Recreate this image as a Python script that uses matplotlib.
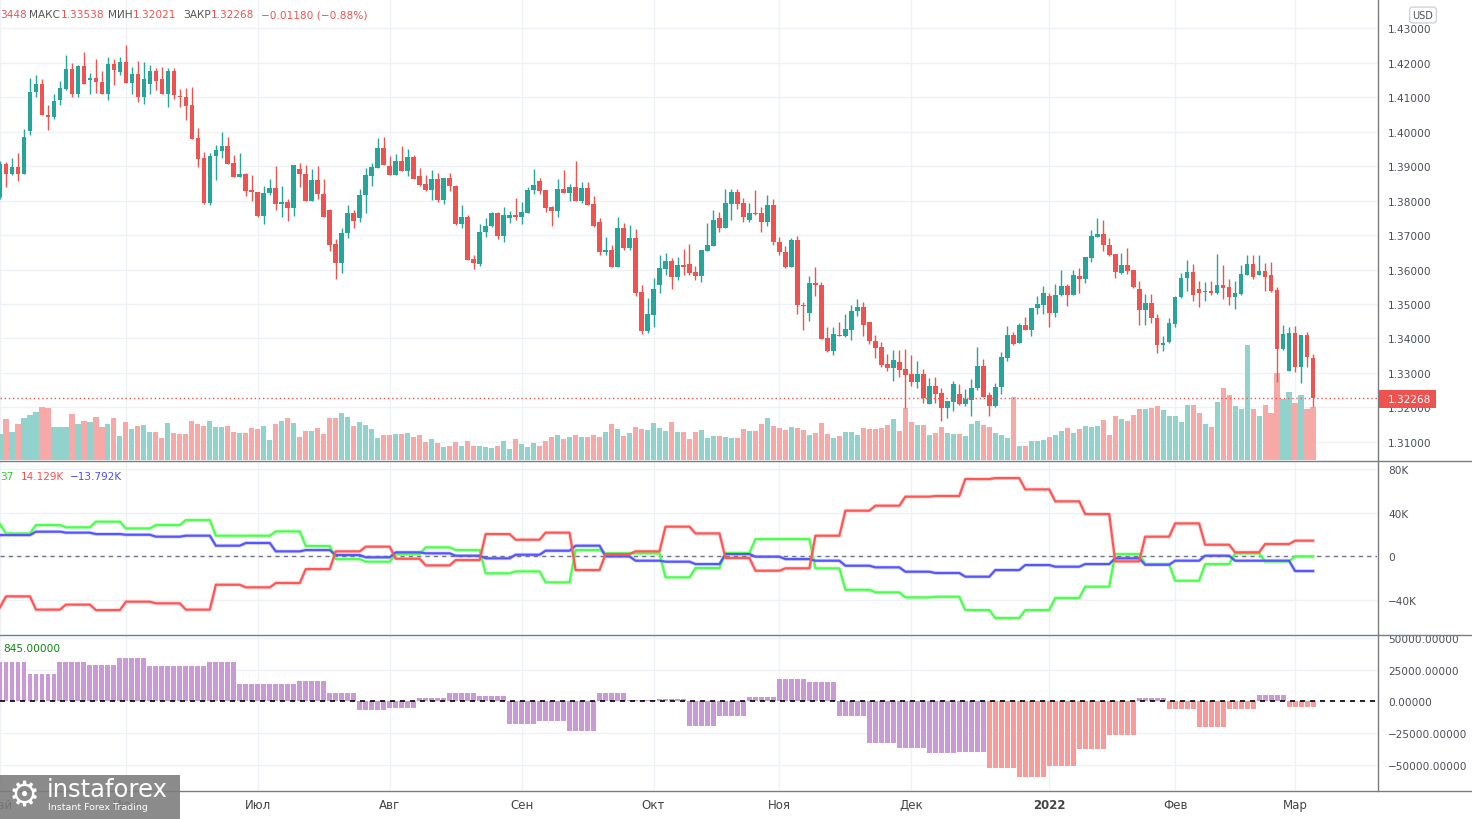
import numpy as np
import pandas as pd
import matplotlib
matplotlib.use("Agg")
import matplotlib.pyplot as plt
from matplotlib.lines import Line2D
from matplotlib.patches import Rectangle

# ---- data (GBP/USD daily, May 2021 - Mar 2022) ----
dates = pd.bdate_range("2021-05-03", "2022-03-04")

opens = [
    1.3811, 1.3907, 1.3878, 1.3898, 1.3878, 1.4001, 1.4115, 1.4139, 1.4047, 1.4042,
    1.4091, 1.4123, 1.4180, 1.4110, 1.4189, 1.4149, 1.4154, 1.4144, 1.4110, 1.4197,
    1.4173, 1.4202, 1.4142, 1.4168, 1.4099, 1.4139, 1.4175, 1.4151, 1.4110, 1.4175,
    1.4104, 1.4101, 1.4078, 1.3980, 1.3922, 1.3794, 1.3929, 1.3943, 1.3957, 1.3910,
    1.3868, 1.3876, 1.3829, 1.3826, 1.3755, 1.3823, 1.3835, 1.3789, 1.3797, 1.3777,
    1.3890, 1.3878, 1.3798, 1.3858, 1.3820, 1.3772, 1.3673, 1.3618, 1.3705, 1.3765,
    1.3748, 1.3816, 1.3870, 1.3894, 1.3951, 1.3900, 1.3873, 1.3915, 1.3886, 1.3926,
    1.3871, 1.3847, 1.3831, 1.3862, 1.3802, 1.3865, 1.3843, 1.3731, 1.3752, 1.3631,
    1.3616, 1.3710, 1.3725, 1.3763, 1.3698, 1.3750, 1.3758, 1.3753, 1.3764, 1.3829,
    1.3856, 1.3831, 1.3781, 1.3770, 1.3834, 1.3821, 1.3839, 1.3799, 1.3836, 1.3789,
    1.3737, 1.3652, 1.3656, 1.3608, 1.3720, 1.3662, 1.3691, 1.3534, 1.3422, 1.3469,
    1.3555, 1.3602, 1.3625, 1.3578, 1.3614, 1.3617, 1.3593, 1.3582, 1.3655, 1.3669,
    1.3749, 1.3720, 1.3789, 1.3824, 1.3792, 1.3744, 1.3763, 1.3763, 1.3739, 1.3786,
    1.3681, 1.3652, 1.3607, 1.3686, 1.3498, 1.3474, 1.3560, 1.3554, 1.3401, 1.3364,
    1.3411, 1.3408, 1.3425, 1.3480, 1.3490, 1.3447, 1.3394, 1.3375, 1.3326, 1.3314,
    1.3331, 1.3311, 1.3297, 1.3275, 1.3297, 1.3211, 1.3261, 1.3242, 1.3198, 1.3217,
    1.3239, 1.3211, 1.3222, 1.3256, 1.3319, 1.3235, 1.3205, 1.3258, 1.3343, 1.3409,
    1.3386, 1.3438, 1.3425, 1.3487, 1.3498, 1.3524, 1.3473, 1.3525, 1.3553, 1.3527,
    1.3582, 1.3573, 1.3633, 1.3695, 1.3702, 1.3672, 1.3645, 1.3590, 1.3614, 1.3600,
    1.3544, 1.3484, 1.3503, 1.3460, 1.3380, 1.3390, 1.3443, 1.3520, 1.3574, 1.3593,
    1.3544, 1.3534, 1.3538, 1.3532, 1.3556, 1.3549, 1.3521, 1.3530, 1.3583, 1.3616,
    1.3583, 1.3597, 1.3583, 1.3542, 1.3370, 1.3307, 1.3416, 1.3317, 1.3409, 1.33448,
]
highs = [
    1.3915, 1.3912, 1.3924, 1.3939, 1.4007, 1.4156, 1.4165, 1.4151, 1.4078, 1.4110,
    1.4146, 1.4221, 1.4200, 1.4192, 1.4231, 1.4171, 1.4209, 1.4175, 1.4216, 1.4209,
    1.4216, 1.4250, 1.4187, 1.4204, 1.4202, 1.4192, 1.4185, 1.4187, 1.4183, 1.4185,
    1.4123, 1.4127, 1.4129, 1.4009, 1.3941, 1.3937, 1.3962, 1.3999, 1.3985, 1.3933,
    1.3939, 1.3881, 1.3873, 1.3826, 1.3843, 1.3861, 1.3900, 1.3841, 1.3803, 1.3902,
    1.3909, 1.3904, 1.3890, 1.3900, 1.3861, 1.3774, 1.3688, 1.3720, 1.3786, 1.3772,
    1.3832, 1.3893, 1.3909, 1.3980, 1.3983, 1.3930, 1.3936, 1.3957, 1.3949, 1.3932,
    1.3894, 1.3874, 1.3889, 1.3879, 1.3865, 1.3879, 1.3845, 1.3787, 1.3758, 1.3643,
    1.3731, 1.3749, 1.3768, 1.3768, 1.3780, 1.3770, 1.3807, 1.3797, 1.3838, 1.3891,
    1.3865, 1.3831, 1.3783, 1.3862, 1.3888, 1.3849, 1.3915, 1.3853, 1.3853, 1.3812,
    1.3749, 1.3694, 1.3672, 1.3753, 1.3736, 1.3728, 1.3717, 1.3556, 1.3517, 1.3575,
    1.3641, 1.3647, 1.3633, 1.3635, 1.3660, 1.3673, 1.3609, 1.3656, 1.3734, 1.3772,
    1.3766, 1.3833, 1.3834, 1.3834, 1.3807, 1.3792, 1.3829, 1.3781, 1.3816, 1.3804,
    1.3694, 1.3667, 1.3691, 1.3696, 1.3507, 1.3580, 1.3607, 1.3565, 1.3432, 1.3432,
    1.3449, 1.3472, 1.3498, 1.3514, 1.3507, 1.3447, 1.3411, 1.3389, 1.3355, 1.3366,
    1.3367, 1.3369, 1.3353, 1.3335, 1.3311, 1.3285, 1.3287, 1.3256, 1.3219, 1.3277,
    1.3268, 1.3253, 1.3283, 1.3374, 1.3340, 1.3245, 1.3271, 1.3362, 1.3437, 1.3418,
    1.3445, 1.3461, 1.3488, 1.3524, 1.3553, 1.3531, 1.3558, 1.3599, 1.3558, 1.3599,
    1.3604, 1.3636, 1.3715, 1.3749, 1.3744, 1.3692, 1.3645, 1.3648, 1.3663, 1.3600,
    1.3566, 1.3528, 1.3528, 1.3470, 1.3407, 1.3460, 1.3523, 1.3590, 1.3627, 1.3616,
    1.3566, 1.3564, 1.3566, 1.3646, 1.3612, 1.3573, 1.3566, 1.3614, 1.3643, 1.3643,
    1.3641, 1.3619, 1.3621, 1.3550, 1.3439, 1.3433, 1.3436, 1.3409, 1.3418, 1.33538,
]
lows = [
    1.3805, 1.3840, 1.3873, 1.3856, 1.3878, 1.3991, 1.4101, 1.4047, 1.4004, 1.4036,
    1.4076, 1.4120, 1.4099, 1.4099, 1.4137, 1.4110, 1.4113, 1.4110, 1.4091, 1.4136,
    1.4163, 1.4142, 1.4110, 1.4086, 1.4081, 1.4110, 1.4120, 1.4110, 1.4072, 1.4094,
    1.4070, 1.4033, 1.3978, 1.3898, 1.3791, 1.3787, 1.3859, 1.3922, 1.3907, 1.3868,
    1.3868, 1.3813, 1.3798, 1.3751, 1.3731, 1.3816, 1.3772, 1.3753, 1.3740, 1.3755,
    1.3838, 1.3798, 1.3798, 1.3804, 1.3752, 1.3653, 1.3572, 1.3589, 1.3690, 1.3719,
    1.3738, 1.3765, 1.3842, 1.3894, 1.3902, 1.3873, 1.3873, 1.3886, 1.3872, 1.3863,
    1.3843, 1.3828, 1.3802, 1.3795, 1.3790, 1.3828, 1.3728, 1.3720, 1.3628, 1.3602,
    1.3609, 1.3695, 1.3724, 1.3689, 1.3679, 1.3734, 1.3744, 1.3731, 1.3764, 1.3820,
    1.3818, 1.3766, 1.3726, 1.3751, 1.3821, 1.3799, 1.3799, 1.3792, 1.3787, 1.3722,
    1.3641, 1.3641, 1.3608, 1.3608, 1.3657, 1.3657, 1.3522, 1.3413, 1.3416, 1.3432,
    1.3531, 1.3585, 1.3543, 1.3570, 1.3585, 1.3585, 1.3570, 1.3564, 1.3655, 1.3669,
    1.3710, 1.3720, 1.3744, 1.3776, 1.3737, 1.3739, 1.3758, 1.3710, 1.3725, 1.3670,
    1.3643, 1.3604, 1.3607, 1.3472, 1.3425, 1.3451, 1.3524, 1.3399, 1.3360, 1.3353,
    1.3406, 1.3404, 1.3396, 1.3466, 1.3408, 1.3384, 1.3343, 1.3316, 1.3306, 1.3277,
    1.3288, 1.3198, 1.3263, 1.3256, 1.3213, 1.3211, 1.3213, 1.3161, 1.3169, 1.3189,
    1.3206, 1.3203, 1.3174, 1.3251, 1.3230, 1.3174, 1.3200, 1.3239, 1.3336, 1.3382,
    1.3386, 1.3425, 1.3408, 1.3471, 1.3471, 1.3432, 1.3462, 1.3524, 1.3493, 1.3527,
    1.3531, 1.3562, 1.3623, 1.3695, 1.3654, 1.3639, 1.3574, 1.3587, 1.3587, 1.3547,
    1.3439, 1.3439, 1.3445, 1.3358, 1.3365, 1.3387, 1.3433, 1.3518, 1.3539, 1.3508,
    1.3492, 1.3510, 1.3525, 1.3529, 1.3515, 1.3496, 1.3486, 1.3525, 1.3583, 1.3573,
    1.3583, 1.3539, 1.3535, 1.3274, 1.3368, 1.3307, 1.3302, 1.3272, 1.3318, 1.32021,
]
closes = [
    1.3907, 1.3878, 1.3898, 1.3878, 1.3985, 1.4115, 1.4139, 1.4047, 1.4042, 1.4088,
    1.4125, 1.4180, 1.4110, 1.4189, 1.4137, 1.4154, 1.4144, 1.4110, 1.4197, 1.4178,
    1.4202, 1.4142, 1.4168, 1.4099, 1.4151, 1.4175, 1.4147, 1.4110, 1.4175, 1.4107,
    1.4099, 1.4075, 1.3978, 1.3920, 1.3794, 1.3930, 1.3945, 1.3957, 1.3907, 1.3868,
    1.3876, 1.3827, 1.3824, 1.3755, 1.3823, 1.3835, 1.3789, 1.3797, 1.3777, 1.3902,
    1.3876, 1.3798, 1.3858, 1.3818, 1.3752, 1.3671, 1.3618, 1.3707, 1.3765, 1.3740,
    1.3817, 1.3873, 1.3896, 1.3951, 1.3902, 1.3873, 1.3915, 1.3886, 1.3926, 1.3863,
    1.3845, 1.3831, 1.3862, 1.3802, 1.3865, 1.3841, 1.3731, 1.3752, 1.3628, 1.3618,
    1.3710, 1.3727, 1.3763, 1.3698, 1.3757, 1.3758, 1.3752, 1.3766, 1.3831, 1.3844,
    1.3828, 1.3778, 1.3770, 1.3834, 1.3821, 1.3839, 1.3799, 1.3836, 1.3787, 1.3725,
    1.3652, 1.3656, 1.3608, 1.3720, 1.3662, 1.3691, 1.3532, 1.3422, 1.3471, 1.3543,
    1.3604, 1.3625, 1.3578, 1.3614, 1.3608, 1.3589, 1.3582, 1.3656, 1.3672, 1.3744,
    1.3720, 1.3792, 1.3824, 1.3789, 1.3751, 1.3763, 1.3760, 1.3739, 1.3786, 1.3681,
    1.3652, 1.3607, 1.3686, 1.3496, 1.3493, 1.3560, 1.3554, 1.3399, 1.3364, 1.3413,
    1.3408, 1.3427, 1.3481, 1.3490, 1.3440, 1.3393, 1.3372, 1.3324, 1.3314, 1.3338,
    1.3309, 1.3295, 1.3275, 1.3297, 1.3227, 1.3261, 1.3239, 1.3198, 1.3219, 1.3268,
    1.3211, 1.3225, 1.3256, 1.3319, 1.3230, 1.3205, 1.3259, 1.3345, 1.3409, 1.3384,
    1.3438, 1.3425, 1.3488, 1.3500, 1.3531, 1.3473, 1.3525, 1.3553, 1.3527, 1.3585,
    1.3573, 1.3636, 1.3696, 1.3702, 1.3670, 1.3643, 1.3592, 1.3613, 1.3597, 1.3550,
    1.3484, 1.3503, 1.3458, 1.3380, 1.3387, 1.3445, 1.3520, 1.3576, 1.3593, 1.3525,
    1.3532, 1.3538, 1.3532, 1.3556, 1.3547, 1.3521, 1.3532, 1.3586, 1.3616, 1.3579,
    1.3597, 1.3579, 1.3539, 1.3370, 1.3412, 1.3416, 1.3318, 1.3409, 1.3346, 1.32268,
]
volume = [
    26, 41, 28, 36, 42, 45, 48, 53, 52, 33, 33, 33, 46, 36, 39, 38, 43, 33, 36, 42,
    24, 38, 31, 34, 35, 28, 28, 22, 37, 27, 26, 26, 39, 36, 34, 39, 33, 33, 34, 28,
    27, 27, 32, 31, 34, 20, 36, 39, 42, 37, 23, 29, 29, 32, 26, 42, 42, 47, 43, 34,
    38, 35, 31, 22, 25, 25, 26, 26, 27, 23, 25, 18, 21, 17, 13, 14, 18, 14, 19, 14,
    14, 13, 12, 14, 19, 11, 21, 16, 13, 17, 14, 19, 23, 25, 21, 23, 25, 23, 23, 25,
    23, 28, 36, 31, 24, 27, 33, 31, 30, 37, 32, 29, 38, 28, 28, 21, 28, 30, 22, 24,
    24, 23, 22, 22, 31, 29, 29, 36, 42, 34, 32, 30, 33, 32, 30, 25, 27, 37, 26, 22,
    24, 28, 28, 25, 32, 31, 31, 32, 35, 41, 29, 52, 38, 35, 35, 25, 27, 33, 27, 26,
    26, 24, 36, 39, 35, 33, 27, 25, 22, 63, 14, 14, 19, 19, 20, 23, 25, 29, 32, 27,
    31, 34, 33, 34, 40, 25, 44, 41, 39, 45, 51, 51, 52, 54, 50, 44, 44, 38, 55, 55,
    47, 36, 33, 58, 72, 65, 54, 51, 115, 51, 44, 55, 47, 87, 61, 68, 57, 65, 51, 53,
]

# weekly COT-style positions (thousands), one value per report Tuesday
cot_red = [
    -47.2, -37.1, -49.3, -44.7, -49.7, -42.0, -43.5, -49.3, -26.4, -28.8,
    -24.8, -12.0, 4.3, 8.6, -2.5, -8.6, -3.7, 20.2, 15.0, 21.5,
    -12.9, 1.8, 4.3, 27.0, 20.8, -1.8, -13.5, -11.3, 18.7, 41.7,
    46.3, 54.6, 55.2, 70.8, 71.7, 61.3, 50.3, 38.6, -4.9, 17.8,
    30.0, 10.4, 3.4, 11.0, 14.129,
]
cot_green = [
    29.4, 20.8, 28.5, 26.4, 31.6, 25.4, 28.5, 33.1, 18.7, 18.7,
    22.7, 9.2, -2.8, -5.2, 1.8, 8.0, 5.5, -15.9, -14.1, -24.2,
    5.5, 2.5, 2.5, -19.6, -11.0, 2.8, 15.6, 15.6, -11.3, -31.0,
    -33.4, -38.0, -37.4, -49.7, -57.0, -49.7, -38.6, -28.2, 1.8, -7.4,
    -22.7, -7.4, 2.5, -4.9, -0.337,
]
cot_blue = [
    19.3, 19.3, 22.4, 21.5, 20.2, 19.6, 17.8, 18.7, 9.5, 12.0,
    4.3, 5.5, 0.9, -1.2, 3.4, 2.5, 0.3, -2.1, 1.2, 4.9,
    9.5, -0.3, -4.3, -5.2, -7.4, 1.8, -0.6, -2.8, -4.3, -8.9,
    -10.4, -14.4, -15.6, -19.0, -12.9, -8.3, -9.8, -7.4, -2.1, -8.0,
    -4.3, 0.3, -4.3, -4.3, -13.792,
]

# weekly net histogram, one value per week (starting Mondays)
net_hist = [
    30700, 21400, 30700, 28400, 33900, 27600, 27600, 30700, 13500, 13500,
    15900, 6500, -6800, -4900, 2600, 6500, 4200, -17700, -15400, -23200,
    6500, 1000, 1800, -19800, -11200, 3400, 17700, 15100, -11200, -32600,
    -36500, -40900, -39600, -52600, -59900, -51000, -37800, -26800, 2600, -5700,
    -20600, -6300, 4900, -4200,
]
hist_kind = ["p"] * 33 + ["s", "s", "s", "s", "s", "p", "s", "s", "s", "p", "s"]

month_labels = ["Май", "Июн", "Июл", "Авг", "Сен", "Окт", "Ноя", "Дек", "2022", "Фев", "Мар"]
price_ticks = [1.31, 1.32, 1.33, 1.34, 1.35, 1.36, 1.37, 1.38, 1.39, 1.40, 1.41, 1.42, 1.43]
cot_ticks = [-40, 0, 40, 80]
hist_ticks = [-50000, -25000, 0, 25000, 50000]

# ---- styling ----
W, H = 1472, 820
UP, DOWN = "#26a69a", "#ef5350"
VOL_UP, VOL_DOWN = "#92d2cc", "#f7a9a7"
GRID = "#eef1f6"
TXT = "#4a4e59"
SEP = "#787b86"
MINUS = "\u2212"


def fx(px):
    return px / W


def fy(py):
    return 1 - py / H


o = np.array(opens)
h = np.array(highs)
l = np.array(lows)
c = np.array(closes)
x = np.arange(len(dates))
up = c >= o

month_starts = pd.date_range("2021-05-01", "2022-03-01", freq="MS")
month_pos = [int(dates.searchsorted(m)) for m in month_starts]
xlim = (1 / 6, 1378 / 6)

fig = plt.figure(figsize=(W / 100, H / 100), dpi=100)
fig.patch.set_facecolor("white")


def style_axis(ax):
    for s in ax.spines.values():
        s.set_visible(False)
    ax.set_xlim(*xlim)
    ax.set_xticks(month_pos)
    ax.yaxis.tick_right()
    ax.tick_params(axis="both", length=0)
    ax.tick_params(axis="y", pad=8, labelsize=7.6, labelcolor=TXT)
    ax.tick_params(axis="x", labelbottom=False)
    ax.grid(True, color=GRID, lw=1)
    ax.set_axisbelow(True)


# ---- price panel ----
ax_p = fig.add_axes([0, fy(461), fx(1377), 461 / H])
style_axis(ax_p)
ylo, yhi = 1.30478, 1.43841
ax_p.set_ylim(ylo, yhi)
ax_p.set_yticks(price_ticks)
ax_p.set_yticklabels([f"{v:.5f}" for v in price_ticks])

vol = np.array(volume, dtype=float)
vol_h = vol / (vol.max() * 4.0) * (yhi - ylo)
ax_p.bar(x, vol_h, bottom=ylo, width=0.86, color=np.where(up, VOL_UP, VOL_DOWN), zorder=1)

cols = np.where(up, UP, DOWN)
ax_p.vlines(x, l, h, colors=cols, lw=1, zorder=2)
body_lo = np.minimum(o, c)
body_h = np.maximum(np.abs(c - o), 0.00025)
ax_p.bar(x, body_h, bottom=body_lo, width=0.78, color=cols, zorder=3)
ax_p.axhline(closes[-1], color=DOWN, ls=(0, (1, 2)), lw=1, zorder=4)

# ---- COT lines panel ----
ax_m = fig.add_axes([0, fy(635), fx(1377), (635 - 462) / H])
style_axis(ax_m)
ax_m.set_ylim(-71.7, 87.4)
ax_m.set_yticks(cot_ticks)
ax_m.set_yticklabels([f"{v}K".replace("-", MINUS) if v else "0" for v in cot_ticks])
week_idx = np.cumsum(dates.weekday == 1)
ax_m.axhline(0, color="#6f737e", ls=(0, (3, 3)), lw=1, zorder=1)
for series, colr in [(cot_green, "#4cff4c"), (cot_blue, "#5656ff"), (cot_red, "#ff5656")]:
    y = np.array(series)[week_idx]
    ax_m.plot(x, y, color=colr, lw=2.8, alpha=0.22, zorder=2)
    ax_m.plot(x, y, color=colr, lw=1.6, zorder=3)

# ---- net histogram panel ----
ax_h = fig.add_axes([0, fy(791), fx(1377), (791 - 636) / H])
style_axis(ax_h)
ax_h.set_ylim(-69950, 52290)
ax_h.set_yticks(hist_ticks)
ax_h.set_yticklabels([f"{v:.5f}".replace("-", MINUS) for v in hist_ticks])
wk = np.cumsum(dates.weekday == 0) - 1
hv = np.array(net_hist)[wk]
hc = np.where(np.array(hist_kind)[wk] == "s", "#f99b9b", "#c99ad6")
ax_h.bar(x, hv, width=0.82, color=hc, zorder=2)
ax_h.axhline(0, color="black", ls=(0, (3, 3)), lw=1.2, zorder=3)
ax_h.tick_params(axis="x", labelbottom=True, pad=6, labelsize=8.5, labelcolor="#444")
ax_h.set_xticklabels(month_labels)
for t in ax_h.get_xticklabels():
    if t.get_text() == "2022":
        t.set_fontweight("bold")

# ---- separators ----
for yy in (461.5, 635.5, 791.5):
    fig.add_artist(Line2D([0, 1], [fy(yy), fy(yy)], transform=fig.transFigure, color=SEP, lw=1))
fig.add_artist(Line2D([fx(1377.5), fx(1377.5)], [fy(0), fy(791.5)], transform=fig.transFigure, color=SEP, lw=1))

# ---- header / legends ----
header = [
    (0, "3448", DOWN), (29, "МАКС", "#555"), (61, "1.33538", DOWN),
    (108, "МИН", "#555"), (133, "1.32021", DOWN), (183, "ЗАКР", "#555"),
    (211, "1.32268", DOWN), (261, MINUS + "0.01180 (" + MINUS + "0.88%)", DOWN),
]
for px, s, colr in header:
    fig.text(fx(px), fy(15), s, color=colr, fontsize=7.6, va="center", ha="left")

fig.text(fx(0), fy(477), "37", color="#2ecc2e", fontsize=7.6, va="center")
fig.text(fx(21), fy(477), f"{cot_red[-1]:.3f}K", color="#ff4d4d", fontsize=7.6, va="center")
fig.text(fx(70), fy(477), f"{cot_blue[-1]:.3f}K".replace("-", MINUS), color="#4d4dff",
         fontsize=7.6, va="center")
fig.text(fx(3), fy(649), "845.00000", color="#0a8a0a", fontsize=7.6, va="center")

fig.text(fx(1423), fy(16), "USD", color=TXT, fontsize=7, ha="center", va="center",
         bbox=dict(boxstyle="round,pad=0.3", fc="white", ec="#d1d4dc", lw=1))

fig.add_artist(Rectangle((fx(1378), fy(409)), fx(58), 18 / H, transform=fig.transFigure,
                         fc=DOWN, ec="none"))
fig.text(fx(1388), fy(400), f"{closes[-1]:.5f}", color="white", fontsize=7.6, va="center")

# ---- watermark ----
fig.add_artist(Rectangle((0, fy(820)), fx(180), 44 / H, transform=fig.transFigure,
                         fc="#7b7b7b", ec="none", alpha=0.88, zorder=5))
fig.text(fx(24), fy(797), "\u2699", color="white", fontsize=25, ha="center", va="center", zorder=6)
fig.text(fx(47), fy(797), "instaforex", color="white", fontsize=17.5, va="baseline", zorder=6)
fig.text(fx(48), fy(808), "Instant Forex Trading", color="white", fontsize=6.8, va="center", zorder=6)

fig.savefig("out.png", dpi=100)
